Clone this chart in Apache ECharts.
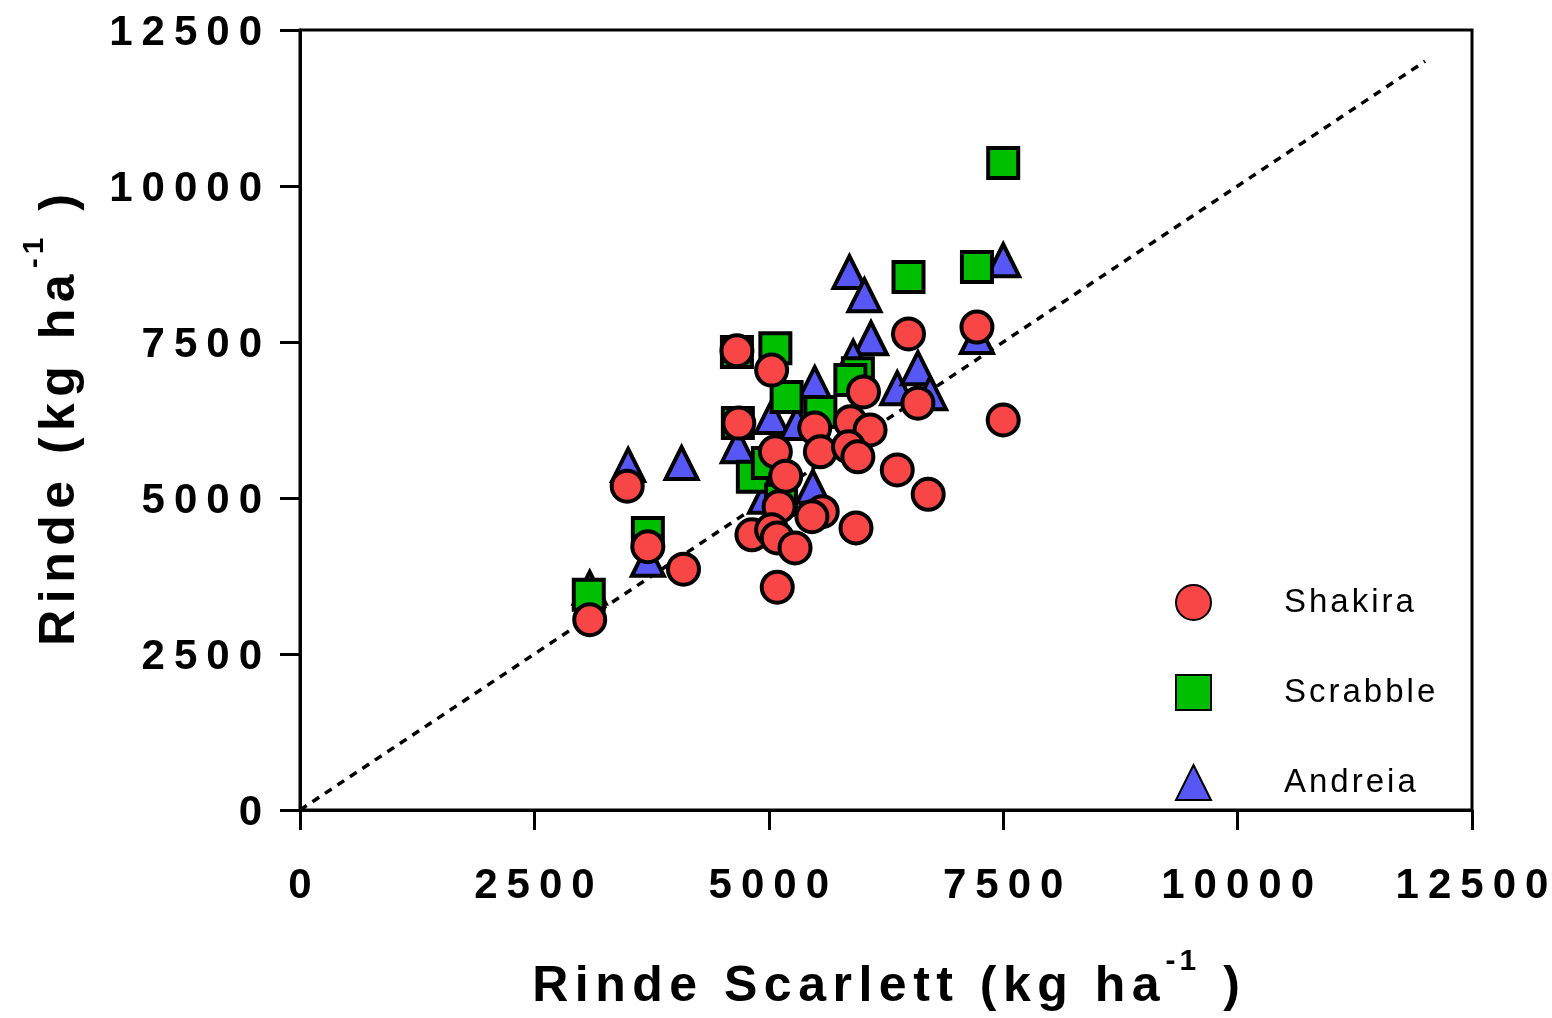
<!DOCTYPE html>
<html>
<head>
<meta charset="utf-8">
<script src="https://cdn.jsdelivr.net/npm/echarts@6/dist/echarts.min.js"></script>
<style>
html,body{margin:0;padding:0;background:#fff;}
#chart{width:1552px;height:1018px;}
</style>
</head>
<body>
<div id="chart"></div>
<script>
// ---- data ----
const seriesNames = ['Shakira', 'Scrabble', 'Andreia'];

const shakiraX = [3090,3490,3710,4090,4660,4680,5030,5070,5180,5110,4820,5030,5090,5280,5090,5570,5460,5930,5490,5870,6080,5550,5850,5950,6010,6490,7220,6590,7500,6370,6700];
const shakiraY = [3050,5190,4220,3860,7360,6200,7050,5740,5350,4860,4410,4490,4360,4200,3570,4780,4700,4520,6120,6220,6090,5740,5820,5660,6700,7630,7740,6520,6250,5450,5060];

const scrabbleX = [7500,7220,6490,5950,5870,5550,5190,5070,4660,4670,4830,4990,5130,3710,3080];
const scrabbleY = [10370,8700,8540,7000,6890,6380,6620,7400,7340,6200,5340,5560,4970,4440,3450];

const andreiaX = [7500,7220,5860,6020,6090,5900,5490,6370,6590,6720,5030,5300,4670,3500,4070,3710,5470,4960,3090];
const andreiaY = [8810,7580,8620,8250,7560,7260,6840,6760,7080,6680,6300,6200,5830,5530,5560,4010,5180,5020,3560];

const refLineX = [0, 12000];
const refLineY = [0, 12000];

// ---- helpers ----
const FONT = '"Liberation Sans", Arial, Helvetica, sans-serif';
function zip(xs, ys) { return xs.map((x, i) => [x, ys[i]]); }
function spaced(str, first, rest) {
  return str.split('').map((c, i) => '{' + (i === 0 ? first : rest) + '|' + c + '}').join('');
}

const titleRich = {
  a: { fontSize: 50, lineHeight: 80, fontWeight: 'bold', fontFamily: FONT, color: '#000' },
  b: { fontSize: 50, lineHeight: 80, fontWeight: 'bold', fontFamily: FONT, color: '#000', padding: [0, 0, 0, 6.5] },
  sa: { fontSize: 30, lineHeight: 30, fontWeight: 'bold', fontFamily: FONT, color: '#000', verticalAlign: 'top', padding: [0, 0, 0, 6] },
  sb: { fontSize: 30, lineHeight: 30, fontWeight: 'bold', fontFamily: FONT, color: '#000', verticalAlign: 'top', padding: [0, 0, 0, 4] }
};
function titleText(main, tail) {
  return spaced(main, 'a', 'b') + spaced('-1', 'sa', 'sb') + spaced(tail, 'b', 'b');
}

const labelRich = {
  a: { fontSize: 42, fontWeight: 'bold', fontFamily: FONT, color: '#000' },
  b: { fontSize: 42, fontWeight: 'bold', fontFamily: FONT, color: '#000', padding: [0, 0, 0, 9] }
};

const chart = echarts.init(document.getElementById('chart'), null, { renderer: 'canvas' });

const markerBorder = { borderColor: '#000', borderWidth: 4 };

chart.setOption({
  animation: false,
  backgroundColor: '#fff',
  grid: {
    left: 300, right: 80, top: 30, bottom: 208,
    show: true, borderColor: '#000', borderWidth: 3, backgroundColor: 'transparent'
  },
  legend: {
    data: seriesNames,
    orient: 'vertical',
    left: 1170, top: 579,
    itemWidth: 35, itemHeight: 35,
    itemGap: 53,
    formatter: name => '{p|}' + spaced(name, 'a', 'b'),
    textStyle: {
      rich: {
        p: { width: 68, fontSize: 34 },
        a: { fontSize: 33, fontFamily: FONT, color: '#000' },
        b: { fontSize: 33, fontFamily: FONT, color: '#000', padding: [0, 0, 0, 3] }
      }
    }
  },
  xAxis: {
    type: 'value', min: 0, max: 12500, interval: 2500,
    splitLine: { show: false },
    axisLine: { show: true, onZero: false, lineStyle: { color: '#000', width: 3 } },
    axisTick: { show: true, inside: false, length: 20, lineStyle: { color: '#000', width: 3 } },
    axisLabel: {
      margin: 55,
      formatter: v => spaced(String(v), 'a', 'b'),
      rich: labelRich
    },
    name: titleText('Rinde Scarlett (kg ha', ' )'),
    nameLocation: 'middle',
    nameGap: 137,
    nameTextStyle: { rich: titleRich }
  },
  yAxis: {
    type: 'value', min: 0, max: 12500, interval: 2500,
    splitLine: { show: false },
    axisLine: { show: true, onZero: false, lineStyle: { color: '#000', width: 3 } },
    axisTick: { show: true, inside: false, length: 20, lineStyle: { color: '#000', width: 3 } },
    axisLabel: {
      margin: 38,
      padding: [6, 0, 0, 0],
      formatter: v => spaced(String(v), 'a', 'b'),
      rich: labelRich
    },
    name: titleText('Rinde (kg ha', ' )'),
    nameLocation: 'middle',
    nameRotate: 90,
    nameGap: 200,
    nameTextStyle: { rich: titleRich }
  },
  series: [
    {
      type: 'line', name: 'ref', data: zip(refLineX, refLineY),
      symbol: 'none', silent: true, z: 1,
      lineStyle: { color: '#000', width: 3.5, type: [8, 7] }
    },
    {
      type: 'scatter', name: 'Andreia', data: zip(andreiaX, andreiaY), z: 2,
      symbol: 'triangle', symbolSize: 32,
      itemStyle: Object.assign({ color: '#5757F5', opacity: 1 }, markerBorder)
    },
    {
      type: 'scatter', name: 'Scrabble', data: zip(scrabbleX, scrabbleY), z: 3,
      symbol: 'rect', symbolSize: 30,
      itemStyle: Object.assign({ color: '#00BE00', opacity: 1 }, markerBorder)
    },
    {
      type: 'scatter', name: 'Shakira', data: zip(shakiraX, shakiraY), z: 4,
      symbol: 'circle', symbolSize: 31,
      itemStyle: Object.assign({ color: '#F84545', opacity: 1 }, markerBorder)
    }
  ]
});
</script>
</body>
</html>
